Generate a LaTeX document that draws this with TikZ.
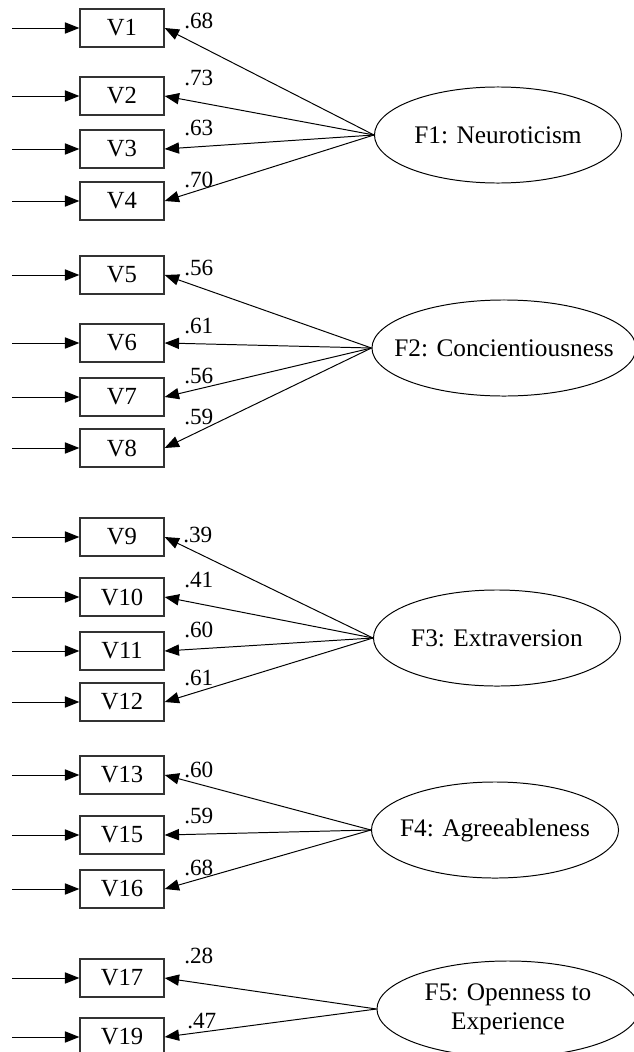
\documentclass[tikz,border=0pt]{standalone}
\usepackage{fontspec}
\setmainfont{Liberation Serif}
\usepackage{tikz}
\usetikzlibrary{positioning}
\usetikzlibrary{arrows.meta}
\usetikzlibrary{shapes.geometric}

\tikzset{
    obsvar/.style={draw=black!80, line width=0.9pt, minimum width=2.1cm, minimum height=0.95cm, inner sep=0pt, font=\fontsize{17.5}{20}\selectfont},
    latent/.style={draw, ellipse, line width=0.7pt, minimum width=6.175cm, minimum height=2.4cm, inner sep=0pt},
    factortext/.style={align=center, inner sep=0pt, font=\fontsize{18}{20.6}\selectfont},
    loading/.style={anchor=base west, inner sep=0pt, font=\fontsize{16.5}{19}\selectfont},
    patharrow/.style={line width=0.7pt, -{Triangle[length=0.36cm, width=0.28cm]}},
}

\begin{document}
\begin{tikzpicture}[x=0.025cm, y=-0.025cm]

    \useasboundingbox (0,0) rectangle (633,1052);

    % observed variables with their error arrows
    \foreach \v/\yy in {1/28, 2/96, 3/149, 4/201, 5/275, 6/343, 7/397, 8/448, 9/537, 10/597, 11/651, 12/702, 13/775, 15/835, 16/889, 17/978, 19/1037}{
        \node[obsvar] (v\v) at (122,\yy) {V\v};
        \coordinate (e\v) at (12,\yy);
        \path[draw, patharrow] (e\v) -- (v\v);
    }

    % latent factors
    \node[latent, label={[factortext]center:{F1: Neuroticism}}] (f1) at (498,135) {};
    \node[latent, minimum width=6.6cm, label={[factortext]center:{F2: Concientiousness}}] (f2) at (504,348) {};
    \node[latent, label={[factortext]center:{F3: Extraversion}}] (f3) at (497,638) {};
    \node[latent, label={[factortext]center:{F4: Agreeableness}}] (f4) at (495,830) {};
    \node[latent, minimum width=6.55cm, label={[factortext]center:{F5: Openness to\\Experience}}] (f5) at (508,1009) {};

    % factor loadings
    \foreach \f/\v in {1/1, 1/2, 1/3, 1/4, 2/5, 2/6, 2/7, 2/8, 3/9, 3/10, 3/11, 3/12, 4/13, 4/15, 4/16, 5/17, 5/19}{
        \path[draw, patharrow] (f\f.west) -- (v\v.east);
    }

    \node[loading] (l1) at (184,28) {.68};
    \node[loading] (l2) at (184,85) {.73};
    \node[loading] (l3) at (184,135) {.63};
    \node[loading] (l4) at (184,187) {.70};
    \node[loading] (l5) at (184,275) {.56};
    \node[loading] (l6) at (184,333) {.61};
    \node[loading] (l7) at (184,383) {.56};
    \node[loading] (l8) at (184,424) {.59};
    \node[loading] (l9) at (183,542) {.39};
    \node[loading] (l10) at (184,587) {.41};
    \node[loading] (l11) at (184,637) {.60};
    \node[loading] (l12) at (184,685) {.61};
    \node[loading] (l13) at (184,777) {.60};
    \node[loading] (l15) at (184,823) {.59};
    \node[loading] (l16) at (184,875) {.68};
    \node[loading] (l17) at (184,963) {.28};
    \node[loading] (l19) at (187,1028) {.47};

\end{tikzpicture}
\end{document}
